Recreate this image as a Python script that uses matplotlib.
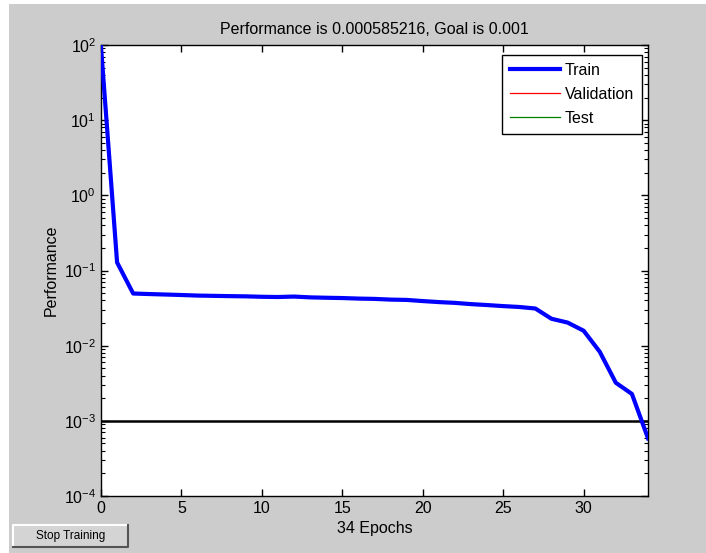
import matplotlib
matplotlib.use('Agg')
import matplotlib.pyplot as plt
from matplotlib.patches import Rectangle
from matplotlib.lines import Line2D

# training record (one value per epoch)
epochs = list(range(0, 35))
train_perf = [95, 0.128, 0.0494, 0.0486, 0.0479, 0.0472, 0.0464, 0.0460, 0.0456,
              0.0453, 0.0447, 0.0444, 0.0450, 0.0439, 0.0434, 0.0430, 0.0423,
              0.0419, 0.0410, 0.0406, 0.0392, 0.0380, 0.0371, 0.0357, 0.0347,
              0.0336, 0.0327, 0.0312, 0.0228, 0.0203, 0.0158, 0.0083, 0.00321,
              0.00228, 0.000585216]
goal = 0.001
xticks = [0, 5, 10, 15, 20, 25, 30]
title_txt = 'Performance is 0.000585216, Goal is 0.001'

plt.rcParams['font.family'] = ['Liberation Sans', 'DejaVu Sans']
plt.rcParams['mathtext.fontset'] = 'custom'
plt.rcParams['mathtext.rm'] = 'Liberation Sans'

W, H = 706, 553
fig = plt.figure(figsize=(W / 100, H / 100), dpi=100)
fig.patch.set_facecolor('white')
# gray figure window
fig.add_artist(Rectangle((9 / W, 0), 1 - 9 / W, 1 - 4 / H, transform=fig.transFigure,
                         facecolor='#cccccc', edgecolor='none', zorder=-10))

ax = fig.add_axes([101 / W, 1 - 496 / H, 547 / W, 451 / H])
ax.set_facecolor('white')

ax.plot([0, 34], [goal, goal], color='black', lw=1.8, zorder=2)
ax.plot(epochs, train_perf, color='#0000ff', lw=3, zorder=3, label='Train')
ax.plot([], [], color='#ff0000', lw=0.9, label='Validation')
ax.plot([], [], color='#008000', lw=0.9, label='Test')

ax.set_yscale('log')
ax.set_ylim(1e-4, 1e2)
ax.set_xlim(0, 34)
ax.set_xticks(xticks)
ax.tick_params(which='both', direction='in', top=True, right=True, labelsize=11.5,
               color='black')
ax.tick_params(which='major', length=5, width=1)
ax.tick_params(which='minor', length=3, width=0.8)
for s in ax.spines.values():
    s.set_linewidth(1.0)
    s.set_color('black')

ax.set_title(title_txt, fontsize=11.5, pad=8)
ax.set_ylabel('Performance', fontsize=11.5, labelpad=4)
ax.set_xlabel('34 Epochs', fontsize=11.5, labelpad=4)

leg = ax.legend(loc='upper right', bbox_to_anchor=((642 - 101) / 547, 1 - 10 / 451),
                borderaxespad=0, fontsize=11.5, handlelength=3.1, handletextpad=0.3,
                labelspacing=0.55, borderpad=0.5, fancybox=False, framealpha=1)
leg.get_frame().set_edgecolor('black')
leg.get_frame().set_linewidth(1.0)

# "Stop Training" button at the bottom left
bx0, by0, bw, bh = 13 / W, 1 - 547 / H, 115 / W, 22 / H
fig.add_artist(Rectangle((bx0, by0), bw, bh, transform=fig.transFigure,
                         facecolor='#d4d4d4', edgecolor='none', zorder=5))
fig.add_artist(Line2D([bx0, bx0, bx0 + bw], [by0, by0 + bh, by0 + bh],
                      transform=fig.transFigure, color='white', lw=1.5, zorder=6))
fig.add_artist(Line2D([bx0, bx0 + bw, bx0 + bw], [by0, by0, by0 + bh],
                      transform=fig.transFigure, color='#555555', lw=1.5, zorder=6))
fig.text(bx0 + bw / 2, by0 + bh / 2, 'Stop Training', ha='center', va='center',
         fontsize=8.5, zorder=7)

fig.savefig('out.png', dpi=100, facecolor=fig.get_facecolor())
